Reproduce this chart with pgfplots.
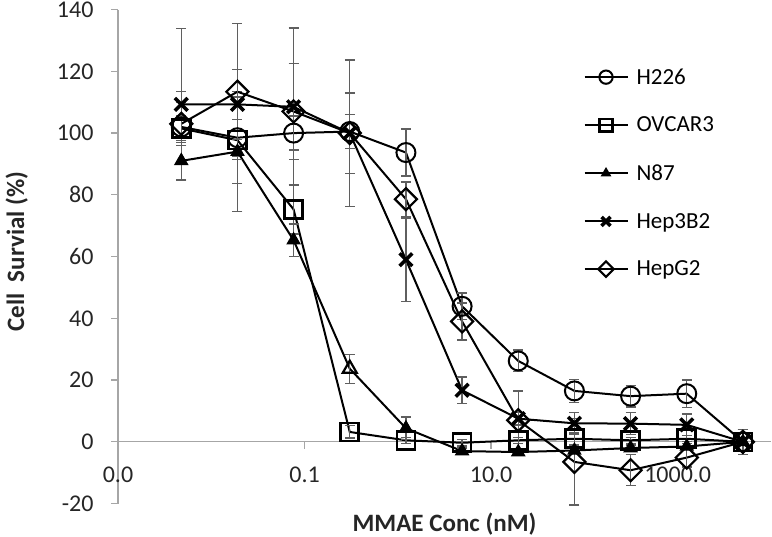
\documentclass[border=0pt]{standalone}
\usepackage{fontspec}
\setmainfont{Carlito}
\usepackage{pgfplots}
\usepackage{pgfplotstable}
\pgfplotsset{compat=1.18}
\definecolor{axgray}{RGB}{166,166,166}
\definecolor{errgray}{RGB}{95,95,95}

\pgfplotstableread[row sep=\\]{
x y e\\
0.0047684 102 11.4\\
0.0190735 98.5 6\\
0.0762939 100 5.5\\
0.305176 100.5 5.5\\
1.220703 93.7 7.6\\
4.882813 43.9 4.3\\
19.53125 26.2 3.5\\
78.125 16.5 3.8\\
312.5 14.8 3.5\\
1250 15.6 4.4\\
5000 0 4\\
}\hcc

\pgfplotstableread[row sep=\\]{
x y e\\
0.0047684 101.5 4\\
0.0190735 97.7 14\\
0.0762939 75.3 8\\
0.305176 3.2 2\\
1.220703 0.5 1\\
4.882813 -0.3 1\\
19.53125 0.5 1\\
78.125 1 2\\
312.5 0.5 1\\
1250 1 1\\
5000 0 4\\
}\ovcar

\pgfplotstableread[row sep=\\]{
x y e\\
0.0047684 91 6\\
0.0190735 94 19.5\\
0.0762939 65.3 5.3\\
0.305176 23.7 4.7\\
1.220703 4.4 3.6\\
4.882813 -3 1\\
19.53125 -3.3 1\\
78.125 -2.8 1\\
312.5 -2 1\\
1250 -1.5 1\\
5000 0 4\\
}\neight

\pgfplotstableread[row sep=\\]{
x y\\
0.305176 23.7\\
}\neightopen

\pgfplotstableread[row sep=\\]{
x y e\\
0.0047684 109.3 24.5\\
0.0190735 109.3 11.4\\
0.0762939 108.5 25.5\\
0.305176 100 23.7\\
1.220703 59 13.5\\
4.882813 16.7 4.3\\
19.53125 7.5 2\\
78.125 6 3.5\\
312.5 5.9 3.5\\
1250 5.5 3.5\\
5000 0 4\\
}\hepb

\pgfplotstableread[row sep=\\]{
x y e\\
0.0047684 103 7\\
0.0190735 113.4 22\\
0.0762939 107 15.6\\
0.305176 100 13\\
1.220703 78.6 5.6\\
4.882813 39 6\\
19.53125 7 9.5\\
78.125 -6.5 14\\
312.5 -9.2 5\\
1250 -5.1 3\\
5000 0 4\\
}\hepg

\begin{document}
\begin{tikzpicture}
\path[use as bounding box] (0,0) rectangle (772pt,537pt);
\begin{axis}[
  at={(118pt,33.4pt)}, anchor=south west,
  scale only axis, width=653pt, height=494pt,
  xmode=log, xmin=1e-3, xmax=1e4, ymin=-20, ymax=140,
  axis x line*=middle, axis y line*=left,
  hide obscured x ticks=false,
  axis line style={axgray, line width=1.3pt},
  every tick/.style={axgray, line width=1.3pt},
  tick align=outside, major tick length=7pt, minor tick length=0pt,
  xtick={1e-3,1e-1,1e1,1e3}, xticklabels={0.0,0.1,10.0,1000.0},
  ytick={-20,0,20,40,60,80,100,120,140},
  yticklabels={-20,0,20,40,60,80,100,120,140},
  tick label style={font=\fontsize{24}{28}\selectfont, text=black!85},
  xticklabel style={yshift=-15pt},
  yticklabel style={xshift=-14pt},
  xlabel={MMAE Conc (nM)}, ylabel={Cell\hspace{0.45em}Survial (\%)},
  label style={font=\fontsize{25}{29}\selectfont\bfseries, text=black!85},
  xlabel style={at={(axis description cs:0.5,-0.0413)}, anchor=center},
  ylabel style={at={(axis description cs:-0.155,0.51)}, anchor=center},
  clip=false,
  every axis plot/.append style={black, line width=2pt},
  legend style={at={(axis description cs:0.708,0.889)}, anchor=north west,
    draw=none, fill=none, font=\fontsize{23}{27}\selectfont, row sep=27.3pt},
  legend cell align=left,
  legend image code/.code={\draw[#1, mark indices={2}, every mark/.append style={scale=0.7}] plot coordinates {(0pt,0pt) (21.5pt,0pt) (43pt,0pt)}; \path (49pt,0pt);},
  error bars/y dir=both, error bars/y explicit,
  error bars/error bar style={errgray, line width=1.3pt},
  error bars/error mark options={errgray, line width=1.3pt, mark size=5pt, rotate=90},
]
\addplot+[black, mark=o, mark size=9.5pt, mark options={black, solid, line width=2pt}]
  table[x=x, y=y, y error=e] {\hcc};
\addlegendentry{H226}
\addplot+[black, mark=square, mark size=9pt, mark options={black, solid, line width=2.6pt}]
  table[x=x, y=y, y error=e] {\ovcar};
\addlegendentry{OVCAR3}
\addplot+[black, mark=triangle*, mark size=7.5pt, mark options={black, fill=black, solid, line width=1pt}, mark indices={1,2,3,5,6,7,8,9,10,11}]
  table[x=x, y=y, y error=e] {\neight};
\addlegendentry{N87}
\addplot+[black, mark=x, mark size=9pt, mark options={black, solid, line width=3.5pt}]
  table[x=x, y=y, y error=e] {\hepb};
\addlegendentry{Hep3B2}
\addplot+[black, mark=square, mark size=7.8pt, mark options={black, solid, rotate=45, line width=2.2pt}]
  table[x=x, y=y, y error=e] {\hepg};
\addlegendentry{HepG2}
\addplot[forget plot, only marks, mark=triangle, mark size=8pt, mark options={black, fill=white, line width=2.2pt}]
  table[x=x, y=y] {\neightopen};
\end{axis}
\end{tikzpicture}
\end{document}
